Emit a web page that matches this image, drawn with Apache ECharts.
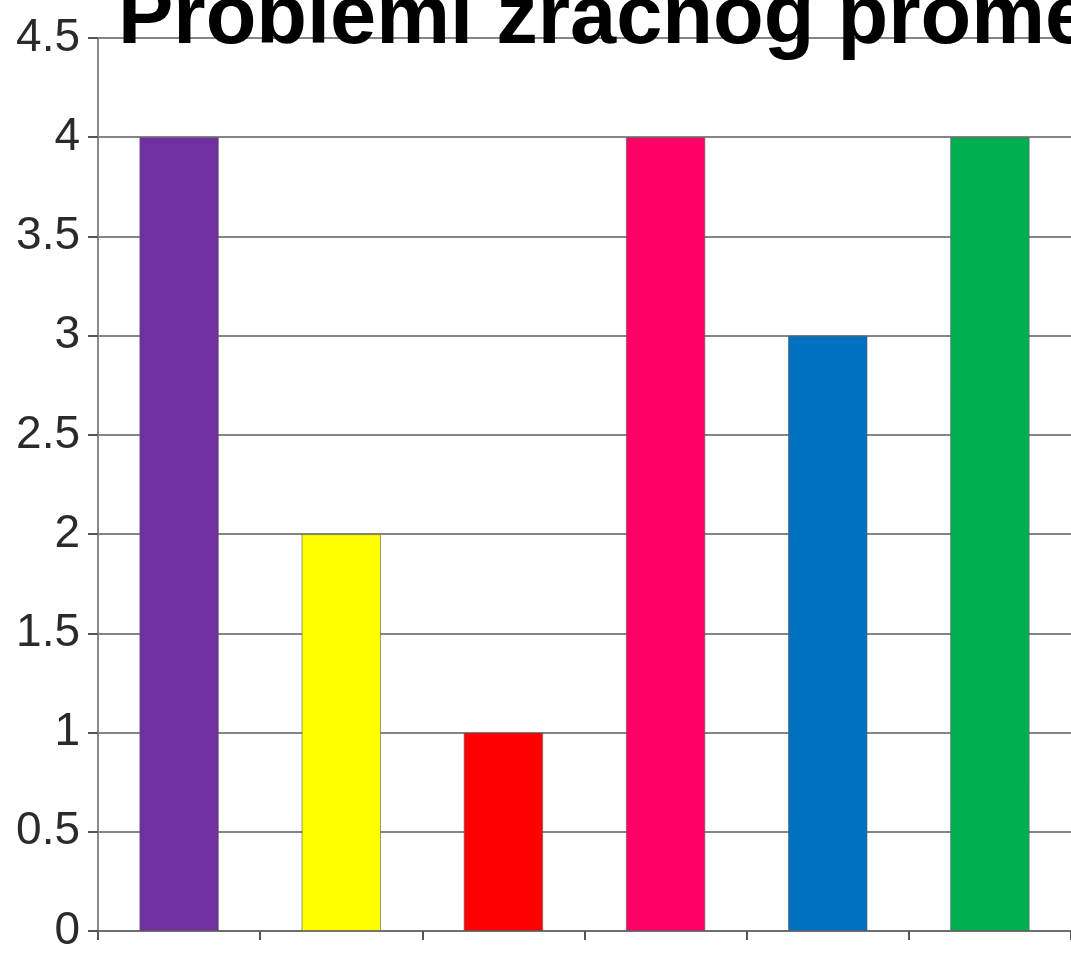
<!DOCTYPE html>
<html>
<head>
<meta charset="utf-8">
<script src="https://cdn.jsdelivr.net/npm/echarts@6/dist/echarts.min.js"></script>
<style>
  html, body { margin: 0; padding: 0; background: #fff; overflow: hidden; }
  #chart { width: 1071px; height: 954px; }
</style>
</head>
<body>
<div id="chart"></div>
<script>
// chart data
const categories = ['1', '2', '3', '4', '5', '6'];
const values = [4, 2, 1, 4, 3, 4];
const barColors = ['#7030A0', '#FFFF00', '#FF0000', '#FF0066', '#0070C0', '#00B050'];
const yTicks = [0, 0.5, 1, 1.5, 2, 2.5, 3, 3.5, 4, 4.5];
const titleText = 'Problemi zračnog prometa';

const myChart = echarts.init(document.getElementById('chart'));

const option = {
    animation: false,
    backgroundColor: '#fff',
    title: {
        text: titleText,
        left: 113,
        top: -26,
        z: 10,
        textStyle: {
            fontFamily: 'Liberation Sans',
            fontSize: 83,
            fontWeight: 'bold',
            color: '#000'
        }
    },
    grid: {
        left: 98,
        right: -3,
        top: 38,
        bottom: 19,
        containLabel: false
    },
    xAxis: {
        type: 'category',
        data: categories,
        axisLine: { lineStyle: { color: '#6f6f6f', width: 2 } },
        axisTick: {
            show: true,
            alignWithLabel: false,
            length: 9,
            lineStyle: { color: '#555', width: 2 }
        },
        axisLabel: { show: false },
        splitLine: { show: false }
    },
    yAxis: {
        type: 'value',
        min: yTicks[0],
        max: yTicks[yTicks.length - 1],
        interval: 0.5,
        axisLine: { show: true, lineStyle: { color: '#8a8a8a', width: 2 } },
        axisTick: { show: true, length: 10, lineStyle: { color: '#555', width: 2 } },
        axisLabel: {
            margin: 18,
            fontFamily: 'Liberation Sans',
            fontSize: 46,
            color: '#2a2a2a'
        },
        splitLine: { show: true, lineStyle: { color: '#858585', width: 2 } }
    },
    series: [
        {
            type: 'bar',
            barWidth: '49%',
            data: values.map((v, i) => ({
                value: v,
                itemStyle: { color: barColors[i], borderColor: 'rgba(90,90,90,0.6)', borderWidth: 1 }
            }))
        }
    ]
};

myChart.setOption(option);
</script>
</body>
</html>
